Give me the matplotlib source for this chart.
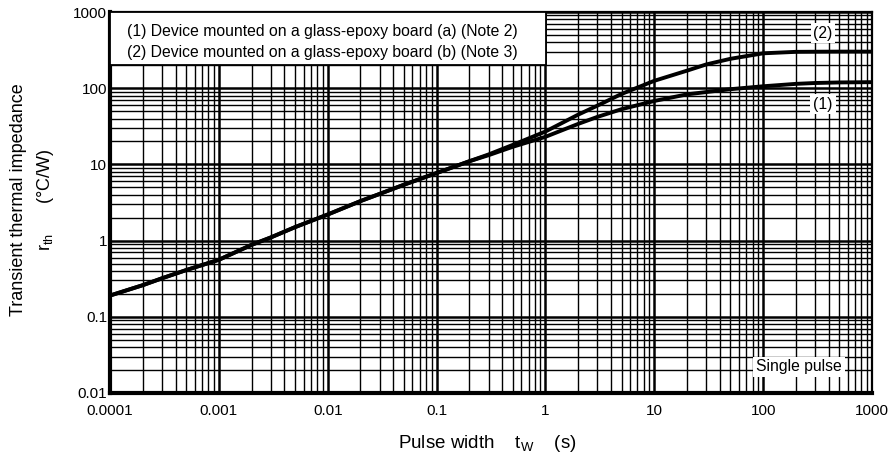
import matplotlib
matplotlib.use("Agg")
import matplotlib.pyplot as plt
from matplotlib.patches import Rectangle
from matplotlib.ticker import LogLocator, FixedLocator, NullFormatter

plt.rcParams['font.family'] = ['Liberation Sans', 'DejaVu Sans']

# Data
tw_shared = [1e-4, 2e-4, 3e-4, 5e-4, 1e-3, 2e-3, 3e-3, 5e-3, 1e-2, 2e-2, 3e-2, 5e-2, 0.1, 0.2]
rth_shared = [0.19, 0.26, 0.32, 0.41, 0.56, 0.88, 1.1, 1.5, 2.2, 3.3, 4.1, 5.4, 7.7, 11.0]

tw_tail = [0.3, 0.5, 1, 2, 3, 5, 10, 20, 30, 50, 100, 200, 300, 500, 1000]
rth1_tail = [13.2, 17, 23, 34, 42, 53, 68, 83, 89, 97, 106, 114, 117, 119, 120]
rth2_tail = [13.5, 18, 27, 45, 59, 84, 125, 170, 205, 243, 287, 300, 301, 302, 302]

xticks = [1e-4, 1e-3, 1e-2, 1e-1, 1, 10, 100, 1000]
xticklabels = ["0.0001", "0.001", "0.01", "0.1", "1", "10", "100", "1000"]
yticks = [0.01, 0.1, 1, 10, 100, 1000]
yticklabels = ["0.01", "0.1", "1", "10", "100", "1000"]

legend_lines = ["(1) Device mounted on a glass-epoxy board (a) (Note 2)",
                "(2) Device mounted on a glass-epoxy board (b) (Note 3)"]

W, H = 893, 461
L, R, T, B = 110, 872, 12, 393

fig = plt.figure(figsize=(W/100, H/100), dpi=100)
ax = fig.add_axes([L/W, 1-B/H, (R-L)/W, (B-T)/H])
ax.set_xscale('log')
ax.set_yscale('log')
ax.set_xlim(1e-4, 1000)
ax.set_ylim(0.01, 1000)

ax.xaxis.set_major_locator(FixedLocator(xticks))
ax.set_xticklabels(xticklabels)
ax.yaxis.set_major_locator(FixedLocator(yticks))
ax.set_yticklabels(yticklabels)
ax.xaxis.set_minor_locator(LogLocator(base=10, subs=range(2, 10), numticks=50))
ax.yaxis.set_minor_locator(LogLocator(base=10, subs=range(2, 10), numticks=50))
ax.xaxis.set_minor_formatter(NullFormatter())
ax.yaxis.set_minor_formatter(NullFormatter())
ax.tick_params(which='both', length=0, labelsize=11, colors='black')
ax.tick_params(axis='x', pad=8)
ax.tick_params(axis='y', pad=2)

ax.grid(which='major', color='black', linewidth=1.8, zorder=0)
ax.grid(which='minor', color='black', linewidth=1.0, zorder=0)
ax.set_axisbelow(True)

for s in ax.spines.values():
    s.set_linewidth(1.6)
ax.spines['left'].set_linewidth(3.0)
ax.spines['bottom'].set_linewidth(3.0)

x1 = tw_shared + tw_tail
y1 = rth_shared + rth1_tail
y2 = rth_shared + rth2_tail
ax.plot(x1, y1, color='black', linewidth=2.8, zorder=5)
ax.plot(x1, y2, color='black', linewidth=2.8, zorder=5)

def axx(px):
    return (px - L) / (R - L)

def axy(py):
    return (B - py) / (B - T)

# legend box
ax.add_patch(Rectangle((0, axy(65)), axx(546), 1 - axy(65), transform=ax.transAxes,
                       facecolor='white', edgecolor='black', linewidth=1.3, zorder=6))
ax.text(axx(127), axy(31), legend_lines[0], transform=ax.transAxes,
        fontsize=11.3, va='center', ha='left', zorder=7)
ax.text(axx(127), axy(52), legend_lines[1], transform=ax.transAxes,
        fontsize=11.3, va='center', ha='left', zorder=7)

bb = dict(facecolor='white', edgecolor='none', pad=2)
ax.text(axx(823), axy(33), "(2)", transform=ax.transAxes, fontsize=11.3,
        ha='center', va='center', bbox=bb, zorder=7)
ax.text(axx(823), axy(104), "(1)", transform=ax.transAxes, fontsize=11.3,
        ha='center', va='center', bbox=bb, zorder=7)
ax.text(axx(799), axy(367), "Single pulse", transform=ax.transAxes, fontsize=11.3,
        ha='center', va='center', bbox=bb, zorder=7)

fig.text(487/W, 1-443/H, r"Pulse width    t$_\mathregular{W}$    (s)", fontsize=13.5,
         ha='center', va='center')
fig.text(19/W, 1-200/H, "Transient thermal impedance", rotation=90, fontsize=13,
         ha='center', va='center')
fig.text(46/W, 1-200/H, r"r$_\mathregular{th}$      (°C/W)", rotation=90, fontsize=13,
         ha='center', va='center')

fig.savefig("out.png", dpi=100)
